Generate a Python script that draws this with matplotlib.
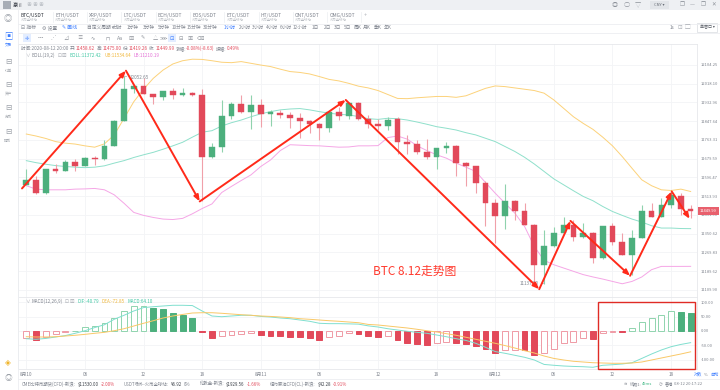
import numpy as np
import matplotlib
matplotlib.use("Agg")
from matplotlib import pyplot as plt
from matplotlib import ticker
from matplotlib.patches import Rectangle
from matplotlib.lines import Line2D

plt.rcParams['font.family'] = ['Noto Sans CJK SC', 'DejaVu Sans']
plt.rcParams['axes.unicode_minus'] = False

# 1 hour candles, 2020-08-10 00:00 .. 2020-08-12 20:00
opens = [11564, 11586, 11527, 11633, 11627, 11664, 11647, 11681, 11677, 11737,
         11849, 11993, 12010, 11971, 11956, 11984, 11967, 11975, 11967, 11686,
         11732, 11873, 11925, 11888, 11920, 11880, 11883, 11876, 11864, 11850,
         11836, 11819, 11891, 11873, 11929, 11857, 11834, 11827, 11857, 11754,
         11746, 11711, 11689, 11726, 11737, 11660, 11645, 11574, 11484, 11428,
         11495, 11447, 11390, 11215, 11296, 11352, 11390, 11338, 11352, 11246,
         11382, 11313, 11260, 11332, 11447, 11425, 11476, 11516, 11458.62]
highs = [11633, 11604, 11634, 11655, 11676, 11680, 11689, 11692, 11764, 11852,
         12052.65, 12013, 12046, 11973, 11986, 11999, 11999, 11982, 11992, 11749,
         11944, 11936, 11967, 11967, 11947, 11899, 11899, 11891, 11883, 11852,
         11838, 11893, 11914, 11931, 11933, 11876, 11857, 11865, 11867, 11786,
         11764, 11766, 11728, 11752, 11739, 11667, 11649, 11579, 11501, 11567,
         11497, 11485, 11392, 11365, 11380, 11425, 11411, 11396, 11359, 11384,
         11396, 11352, 11365, 11476, 11485, 11505, 11535, 11527, 11475.00]
lows = [11562, 11525, 11525, 11618, 11625, 11627, 11645, 11652, 11675, 11735,
        11847, 11975, 11969, 11924, 11944, 11947, 11963, 11963, 11491, 11684,
        11711, 11857, 11886, 11811, 11822, 11827, 11861, 11816, 11771, 11793,
        11764, 11801, 11853, 11857, 11853, 11816, 11808, 11808, 11700, 11700,
        11700, 11680, 11633, 11704, 11601, 11560, 11527, 11382, 11310, 11371,
        11408, 11388, 11140, 11137, 11294, 11350, 11317, 11334, 11224, 11242,
        11303, 11258, 11175, 11330, 11423, 11423, 11461, 11432, 11419.26]
closes = [11586, 11527, 11633, 11627, 11664, 11647, 11681, 11677, 11737, 11849,
          11993, 12010, 11971, 11956, 11984, 11967, 11975, 11968, 11686, 11734,
          11873, 11925, 11888, 11920, 11880, 11888, 11874, 11861, 11849, 11836,
          11819, 11891, 11873, 11929, 11857, 11834, 11827, 11853, 11752, 11747,
          11711, 11689, 11726, 11737, 11660, 11645, 11574, 11484, 11428, 11495,
          11447, 11390, 11215, 11296, 11352, 11390, 11338, 11352, 11246, 11382,
          11313, 11260, 11332, 11447, 11425, 11476, 11520, 11458.62, 11449.99]

boll_mid = [11671, 11662, 11655, 11649, 11645, 11642, 11640, 11642, 11648, 11660,
            11671, 11685, 11697, 11708, 11722, 11737, 11753, 11776, 11798, 11805,
            11826, 11841, 11853, 11868, 11881, 11891, 11899, 11903, 11905, 11899,
            11891, 11884, 11879, 11876, 11869, 11859, 11856, 11861, 11859, 11853,
            11844, 11834, 11823, 11816, 11808, 11796, 11786, 11771, 11756, 11734,
            11712, 11686, 11656, 11623, 11590, 11564, 11538, 11513, 11494, 11469,
            11447, 11430, 11414, 11401, 11385, 11375, 11375, 11373, 11372.42]
boll_up = [11790, 11781, 11770, 11756, 11749, 11745, 11737, 11731, 11746, 11786,
           11860, 11936, 11993, 12043, 12081, 12109, 12124, 12131, 12130, 12124,
           12117, 12115, 12120, 12112, 12104, 12097, 12085, 12074, 12070, 12063,
           12051, 12038, 12031, 12020, 12007, 11999, 11987, 11969, 11951, 11950,
           11954, 11957, 11960, 11960, 11956, 11963, 11980, 11997, 12008, 12005,
           11999, 11993, 11987, 11975, 11944, 11906, 11868, 11838, 11811, 11776,
           11737, 11689, 11637, 11586, 11560, 11542, 11539, 11545, 11534.64]
boll_low = [11560, 11545, 11542, 11542, 11542, 11545, 11546, 11548, 11542, 11520,
            11483, 11443, 11430, 11421, 11414, 11412, 11417, 11437, 11460, 11480,
            11530, 11557, 11583, 11608, 11645, 11674, 11716, 11742, 11740, 11738,
            11737, 11734, 11731, 11732, 11737, 11737, 11738, 11774, 11781, 11767,
            11737, 11716, 11697, 11682, 11660, 11642, 11623, 11574, 11527, 11483,
            11440, 11382, 11295, 11236, 11217, 11203, 11189, 11175, 11165, 11156,
            11146, 11136, 11146, 11165, 11196, 11210, 11210, 11210, 11210.19]

dif = [-27, -29, -26, -21, -16, -8, 1, 12, 22, 41,
       55, 70, 82, 85, 87.5, 90, 90, 89, 70, 52.5,
       50, 52.5, 55, 55, 51, 49, 45.5, 43, 38.5, 34,
       27, 25.7, 25.7, 25, 24, 18, 14, 8, 3.5, -1,
       -4.7, -8, -14, -20, -27, -33, -43, -57, -72, -78,
       -85, -92, -101.5, -117, -120, -122.5, -124, -125, -127, -120,
       -118, -115.5, -111, -96, -80.5, -66.5, -55, -47, -40.79]
dea = [-20, -21, -21, -20, -17.5, -15, -11.7, -8, -4.7, 1,
       8, 17.5, 27, 36, 45.5, 52.5, 58, 63, 64, 64,
       62, 59.5, 57, 55, 52.5, 51, 49, 46.7, 43, 41,
       38.5, 36, 34, 31.5, 29, 23, 21, 17.5, 14, 10.5,
       6, 1, -3.5, -9.3, -15, -22, -29, -36, -43, -51,
       -59.5, -69, -77, -87.5, -96, -101.5, -106, -108.5, -111, -112,
       -113, -113, -112, -108.5, -101.5, -94.5, -87.5, -80.5, -72.85]
macd = [-25.7, -31.5, -19.8, -11.7, -2, 1, 13, 17.5, 27, 44,
        71, 87.5, 88.6, 81.7, 76, 64, 56, 44, -2, -25.7,
        -16, -13, -11, -6, -13, -16, -17, -19.8, -20, -26,
        -31.5, -20, -16, -6, -12, -17.5, -22, -17.5, -31.5, -41,
        -45.5, -49, -43, -37, -41, -45.5, -52.5, -64, -76, -66.5,
        -65, -67, -84, -78, -64, -43, -37, -26, -27, -6,
        -2, -3, 10, 31, 44, 56, 70, 66, 64.1]

time_ticks = [0, 6, 12, 18, 24, 30, 36, 42, 48, 54, 60, 66]
time_labels = ['8月10', '06', '12', '18', '8月11', '06', '12', '18', '8月12', '06', '12', '18']
price_ticks = [12104.25, 12018.10, 11932.96, 11847.64, 11763.31, 11679.59, 11596.47,
               11513.93, 11431.90, 11350.62, 11269.83, 11189.62, 11109.90]
macd_ticks = [100, 50, 0, -50, -100]

# hand drawn trend arrows (candle index, price)
trend_x = [-0.44, 10.2, 17.75, 32.7, 52.5, 55.7, 61.8, 66.06, 67.9]
trend_y = [11548, 12078, 11491, 11944, 11113, 11406, 11170, 11535, 11415]

tabs = ['BTC/USDT', 'ETH/USDT', 'XRP/USDT', 'LTC/USDT', 'BCH/USDT',
        'EOS/USDT', 'ETC/USDT', 'HT/USDT', 'ONT/USDT', 'OMG/USDT']
periods = ['分时', '1分钟', '3分钟', '5分钟', '10分钟', '15分钟', '30分钟', '1小时', '2小时',
           '3小时', '4小时', '6小时', '12小时', '1日', '2日', '3日', '5日', '周K', '月K', '季K', '年K']
period_x = [118, 133, 149, 164, 179, 194, 210, 230, 245, 258, 272, 286, 300,
            315, 328, 338, 348, 358, 367, 378, 388]

GREEN, RED = '#4caf7d', '#e2495a'
GRAY, LGRAY, BLUE = '#80858f', '#a9adb4', '#3d7eff'
W, H = 720, 390

fig = plt.figure(figsize=(W / 100, H / 100), dpi=100)
renderer = fig.canvas.get_renderer()


def box(x0, y0, x1, y1):
    return [x0 / W, 1 - y1 / H, (x1 - x0) / W, (y1 - y0) / H]


def txt(x, y, s, size=3.6, color=GRAY, **kw):
    return fig.text(x / W, 1 - y / H, s, fontsize=size, color=color, va='center', **kw)


def chain(x, y, pieces, size):
    # pieces: (text, colour, gap after in px)
    for s, col, gap in pieces:
        t = txt(x, y, s, size, col)
        x += t.get_window_extent(renderer).width + gap
    return x


def hline(y, x0=0, x1=W, color='#eceef1'):
    fig.add_artist(Line2D([x0 / W, x1 / W], [1 - y / H] * 2, color=color, lw=0.6))


# ---------- main candle panel ----------
ax = fig.add_axes(box(18, 44, 697, 297))
axm = fig.add_axes(box(18, 297, 697, 369), sharex=ax)

x = np.arange(len(closes))
o, h, l, c = (np.array(v, dtype=float) for v in (opens, highs, lows, closes))
up = c >= o
body_col = np.where(up, GREEN, RED)
wick_col = np.where(up, '#8fd2ad', '#f0a0a9')
ax.vlines(x, l, h, colors=wick_col, lw=0.8, zorder=3)
ax.bar(x, np.maximum(np.abs(c - o), 3), bottom=np.minimum(o, c), width=0.58,
       color=body_col, edgecolor=body_col, lw=0.3, zorder=4)

ax.plot(x, boll_mid, color='#8fe0cb', lw=0.7, zorder=2)
ax.plot(x, boll_up, color='#fcd27a', lw=0.7, zorder=2)
ax.plot(x, boll_low, color='#f5a6e6', lw=0.7, zorder=2)

ax.set_yscale('log')
ax.set_ylim(11080, 12201.5)
ax.set_xlim(-0.85, 68.65)
ax.set_yticks(price_ticks)
ax.yaxis.set_major_formatter(ticker.FixedFormatter(['%.2f' % p for p in price_ticks]))
ax.yaxis.set_minor_locator(ticker.NullLocator())
ax.yaxis.tick_right()
ax.set_xticks(time_ticks)
ax.tick_params(axis='y', length=0, pad=2.5, labelsize=3.0, labelcolor=GRAY)
ax.tick_params(axis='x', length=0, labelbottom=False)
ax.grid(True, color='#f3f4f6', lw=0.6)
ax.set_axisbelow(True)

# high / low marks
imax, imin = int(np.argmax(h)), int(np.argmin(l))
arrow_gray = dict(arrowstyle='-', color=LGRAY, lw=0.5, shrinkA=0, shrinkB=0)
ax.annotate('%.2f' % h[imax], xy=(imax, h[imax]), xytext=(4, -1), textcoords='offset points',
            fontsize=3.3, color=GRAY, va='center', arrowprops=arrow_gray)
ax.annotate('%.2f' % l[imin], xy=(imin, l[imin]), xytext=(-4, 0), textcoords='offset points',
            fontsize=3.3, color=GRAY, va='center', ha='right', arrowprops=arrow_gray)

# last price tag on the axis
ax.annotate('%.2f' % c[-1], xy=(1, c[-1]), xycoords=('axes fraction', 'data'),
            xytext=(2.2, 0), textcoords='offset points', fontsize=3.0, color='white',
            va='center', ha='left', annotation_clip=False, zorder=8,
            bbox=dict(boxstyle='square,pad=0.5', fc='#e8606d', ec='none'))

for i in range(len(trend_x) - 1):
    ax.annotate('', xy=(trend_x[i + 1], trend_y[i + 1]), xytext=(trend_x[i], trend_y[i]),
                arrowprops=dict(arrowstyle='-|>,head_length=0.35,head_width=0.14',
                                color='#ff2a1a', lw=1.4, shrinkA=0, shrinkB=0), zorder=6)

# ---------- MACD panel ----------
m = np.array(macd)
prev = np.concatenate([[m[0] - 1], m[:-1]])
hollow = m > prev
pos = m >= 0
edge = np.where(pos, np.where(hollow, '#8fd4ae', GREEN), np.where(hollow, '#ef9aa5', RED))
face = np.where(hollow, 'white', np.where(pos, GREEN, RED))
axm.bar(x, m, width=0.6, color=face, edgecolor=edge, lw=0.7, zorder=3)
axm.plot(x, dif, color='#80dfcf', lw=0.7, zorder=4)
axm.plot(x, dea, color='#f9c867', lw=0.7, zorder=4)
axm.set_ylim(-133, 119)
axm.set_yticks(macd_ticks)
axm.yaxis.set_major_formatter(ticker.FixedFormatter(['%.2f' % v for v in macd_ticks]))
axm.yaxis.tick_right()
axm.set_xticks(time_ticks)
axm.set_xticklabels(time_labels)
axm.tick_params(axis='y', length=0, pad=2.5, labelsize=3.0, labelcolor=GRAY)
axm.tick_params(axis='x', length=0, pad=1.8, labelsize=3.4, labelcolor=GRAY)
axm.grid(True, color='#f3f4f6', lw=0.6)
axm.set_axisbelow(True)

for a in (ax, axm):
    for s in a.spines.values():
        s.set_color('#e6e8eb')
        s.set_linewidth(0.6)

fig.add_artist(Rectangle((598 / W, 1 - 369 / H), 97 / W, 67.5 / H, transform=fig.transFigure,
                         fill=False, ec='#e02b25', lw=1.0, zorder=9))
txt(373, 271, 'BTC 8.12走势图', size=8.5, color='#ff3b2f')

# ---------- legends inside panels ----------
chain(21, 48.5, [('时间:2020-08-12 20:00', GRAY, 1.5),
                 ('开:', GRAY, 0), ('%.2f' % o[-1], RED, 1.5),
                 ('高:', GRAY, 0), ('%.2f' % h[-1], RED, 1.5),
                 ('低:', GRAY, 0), ('%.2f' % l[-1], RED, 1.5),
                 ('收:', GRAY, 0), ('%.2f' % c[-1], RED, 1.5),
                 ('涨幅:', GRAY, 0),
                 ('%.2f%%(%.2f)' % ((c[-1] - c[-2]) / c[-2] * 100, c[-1] - c[-2]), RED, 1.5),
                 ('振幅:', GRAY, 0), ('%.2f%%' % ((h[-1] - l[-1]) / c[-2] * 100), RED, 0)], 3.3)
chain(25, 55.7, [('∨', LGRAY, 2), ('BOLL(19,2)', GRAY, 2), ('⊡', LGRAY, 1), ('⊠', LGRAY, 3),
                 ('BOLL:%.2f' % boll_mid[-1], '#3fc7a3', 3),
                 ('UB:%.2f' % boll_up[-1], '#f0b73a', 3),
                 ('LB:%.2f' % boll_low[-1], '#e36fd5', 0)], 3.3)
chain(25, 301.7, [('∨', LGRAY, 2), ('MACD(12,26,9)', GRAY, 2), ('⊡', LGRAY, 1), ('⊠', LGRAY, 3),
                  ('DIF:%.2f' % dif[-1], '#3fc7a3', 3),
                  ('DEA:%.2f' % dea[-1], '#f0b73a', 3),
                  ('MACD:%.2f' % macd[-1], '#3fc7a3', 0)], 3.3)
chain(694, 374.5, [('对数', BLUE, 2), ('%', GRAY, 2), ('自动', BLUE, 0)], 3.0)

# ---------- window chrome ----------
fig.add_artist(Rectangle((0, 1 - 10 / H), 1, 10 / H, transform=fig.transFigure,
                         fc='#eef0f3', ec='none', zorder=0))
fig.add_artist(Rectangle((3 / W, 1 - 9 / H), 8 / W, 7.5 / H, transform=fig.transFigure,
                         fc='#a7adb6', ec='none'))
txt(13, 5, '豪川', 3.5, '#333842')
for xi in (29, 35, 41):
    txt(xi, 5, '◉', 3.5, '#c3c7cd', ha='center')
for xi, s in ((615, '◎'), (627, '○'), (638, '▽')):
    txt(xi, 5, s, 4.5, '#8e939b', ha='center')
fig.add_artist(Rectangle((650 / W, 1 - 8.5 / H), 19 / W, 7 / H, transform=fig.transFigure,
                         fc='#e2e5e9', ec='none'))
txt(659.5, 5, 'CNY ▾', 3.0, '#6b7079', ha='center')
for xi, s in ((682, '❐'), (692, '—'), (703, '❐'), (714, '✕')):
    txt(xi, 5, s, 4.0, '#8e939b', ha='center')

# tabs
for i, name in enumerate(tabs):
    x0 = 20.7 + i * 34.3
    txt(x0, 15.5, name, 3.5, '#2f343c' if i == 0 else GRAY)
    txt(x0, 20.3, '火币全球站', 2.4, '#b7bbc1')
    fig.add_artist(Line2D([(x0 + 32) / W] * 2, [1 - 12 / H, 1 - 22 / H], color='#eceef1', lw=0.5))
txt(365, 16, '+', 4, LGRAY, ha='center')
hline(23.5, 18)

# toolbar
txt(21, 27.5, '⊟ 指标', 3.5, GRAY)
txt(42, 27.5, '⚙ 设置', 3.5, GRAY)
txt(62, 27.5, '✎ 画线', 3.5, BLUE)
txt(87, 27.5, '自定义周期 ▾', 3.4, GRAY)
for s, xp in zip(periods, period_x):
    txt(xp, 27.5, s, 3.4, BLUE if s == '1小时' else GRAY, ha='center')
txt(672, 27.5, '1s', 3.4, GRAY, ha='center')
txt(680, 27.5, '⊡', 4, LGRAY, ha='center')
txt(688, 27.5, '▢', 4, LGRAY, ha='center')
fig.add_artist(Rectangle((697 / W, 1 - 31.5 / H), 20 / W, 8 / H, transform=fig.transFigure,
                         fc='white', ec='#d9dce0', lw=0.5))
txt(707, 27.5, '单窗口 ▾', 2.9, '#555a63', ha='center')
hline(33, 18)

tool_icons = ['✛', '┄', '⋰', '⊿', '≡', '∿', '⊓', 'Aa', '⊠', '✎', '△', '⋙', '⊡', '⊟', '▣', '⌫']
tool_x = [27, 40, 53, 66, 80, 93, 107, 120, 131, 143, 155, 163, 172, 181, 190, 200]
for k, (s, xp) in enumerate(zip(tool_icons, tool_x)):
    hot = k in (0, 12)
    if hot:
        fig.add_artist(Rectangle(((xp - 4) / W, 1 - 42 / H), 8 / W, 8 / H,
                                 transform=fig.transFigure, fc='#e3edff', ec='none'))
    txt(xp, 38, s, 3.8, BLUE if hot else '#8e939b', ha='center')

# left sidebar
fig.add_artist(Line2D([18 / W] * 2, [1 - 10 / H, 0], color='#eceef1', lw=0.6))
txt(8, 19, '◎', 6, '#9ba0a8', ha='center')
txt(8, 36, '▣', 6, BLUE, ha='center')
txt(8, 44.5, '交易', 2.6, BLUE, ha='center')
for yi, s in ((62, '订单'), (85, '资产'), (108, '充币'), (132, '提币')):
    txt(8, yi, '⊟', 5.5, '#9ba0a8', ha='center')
    txt(8, yi + 8.5, s, 2.6, '#a3a8af', ha='center')
txt(8, 363, '◈', 5.5, '#f0b429', ha='center')
txt(8, 378, '◎', 5.5, '#9ba0a8', ha='center')

# status bar
hline(379, 18)
chain(22, 384.3, [('CME比特币期货(CFD)-新浪:', GRAY, 2), ('$11530.00', '#3a3f47', 2), ('-2.00%', RED, 9),
                  ('USDT场外-火币全球站:', GRAY, 2), ('¥6.92', '#3a3f47', 2), ('0%', GRAY, 9),
                  ('伦敦金-新浪:', GRAY, 2), ('$1929.56', '#3a3f47', 2), ('-1.66%', RED, 9),
                  ('纽约原油CFD(CL)-新浪:', GRAY, 2), ('$42.28', '#3a3f47', 2), ('-0.91%', RED, 0)], 3.2)
chain(624, 384.3, [('≋', GRAY, 2), ('线路1:', GRAY, 0.5), ('49ms', '#3fb884', 7),
                   ('◷', GRAY, 2), ('香港', GRAY, 1.5), ('08-12 20:17:22', GRAY, 0)], 3.0)

fig.savefig('out.png', dpi=100)
